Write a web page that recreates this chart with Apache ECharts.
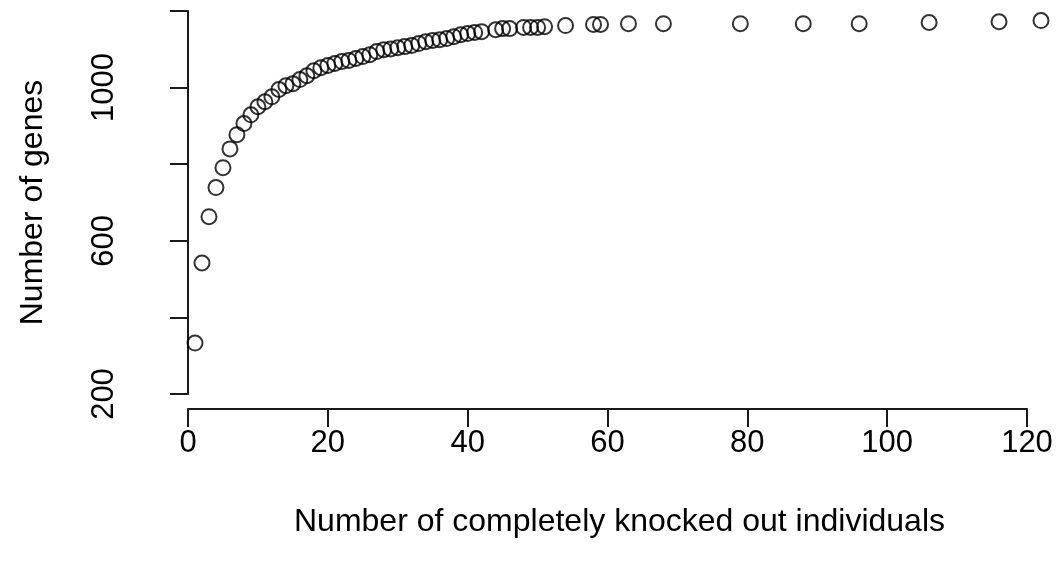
<!DOCTYPE html>
<html>
<head>
<meta charset="utf-8">
<script src="https://cdn.jsdelivr.net/npm/echarts@6/dist/echarts.min.js"></script>
<style>
  html, body { margin: 0; padding: 0; background: #fff; }
  #chart { width: 1060px; height: 569px; }
</style>
</head>
<body>
<div id="chart"></div>
<script>
// valores
const individuos = [
  1, 2, 3, 4, 5, 6, 7, 8, 9, 10,
  11, 12, 13, 14, 15, 16, 17, 18, 19, 20,
  21, 22, 23, 24, 25, 26, 27, 28, 29, 30,
  31, 32, 33, 34, 35, 36, 37, 38, 39, 40,
  41, 42, 44, 45, 46, 48, 49, 50, 51, 54,
  58, 59, 63, 68, 79, 88, 96, 106, 116, 122
];
const genes = [
  333, 542, 663, 739, 791, 840, 877, 906, 929, 950,
  963, 976, 995, 1005, 1010, 1021, 1031, 1044, 1052, 1058,
  1063, 1068, 1071, 1076, 1081, 1086, 1094, 1099, 1101, 1104,
  1107, 1110, 1115, 1120, 1123, 1125, 1128, 1133, 1138, 1141,
  1144, 1146, 1151, 1154, 1154, 1157, 1157, 1157, 1159, 1162,
  1165, 1165, 1167, 1167, 1167, 1167, 1167, 1170, 1172, 1175
];
const xTicks = [0, 20, 40, 60, 80, 100, 120];
const yTicks = [200, 400, 600, 800, 1000, 1200];
const yLabelsVisibles = [200, 600, 1000]; // R oculta las que se solapan

const fuente = 'Liberation Sans, Arial, sans-serif';
const colorEje = '#1a1a1a';

const puntos = individuos.map((x, i) => [x, genes[i]]);

const myChart = echarts.init(document.getElementById('chart'), null, { renderer: 'canvas' });

myChart.setOption({
  animation: false,
  backgroundColor: '#fff',
  grid: { left: 188, right: 33, top: 11, bottom: 175, containLabel: false },
  xAxis: {
    type: 'value',
    min: xTicks[0],
    max: xTicks[xTicks.length - 1],
    interval: 20,
    offset: 15,
    name: 'Number of completely knocked out individuals',
    nameLocation: 'middle',
    nameGap: 97,
    // el titulo de R se centra en toda la region del grafico, algo mas a la derecha
    nameTextStyle: { fontFamily: fuente, fontSize: 32, color: '#000', padding: [0, 0, 0, 24] },
    axisLine: { show: true, onZero: false, lineStyle: { color: colorEje, width: 2 } },
    axisTick: { show: true, length: 18, lineStyle: { color: colorEje, width: 2 } },
    axisLabel: { margin: 19, fontFamily: fuente, fontSize: 31, color: '#000', showMinLabel: true, showMaxLabel: true },
    splitLine: { show: false }
  },
  yAxis: {
    type: 'value',
    min: yTicks[0],
    max: yTicks[yTicks.length - 1],
    interval: 200,
    offset: 27,
    name: 'Number of genes',
    nameLocation: 'middle',
    nameRotate: 90,
    nameGap: 112,
    nameTextStyle: { fontFamily: fuente, fontSize: 32, color: '#000' },
    axisLine: { show: true, lineStyle: { color: colorEje, width: 2 } },
    axisTick: { show: true, length: 18, lineStyle: { color: colorEje, width: 2 } },
    axisLabel: {
      rotate: 90,
      margin: 41,
      fontFamily: fuente,
      fontSize: 31,
      color: '#000',
      showMinLabel: true,
      showMaxLabel: true,
      formatter: v => yLabelsVisibles.includes(v) ? String(v) : ''
    },
    splitLine: { show: false }
  },
  series: [{
    type: 'scatter',
    clip: false,
    symbol: 'circle',
    symbolSize: 15,
    itemStyle: { color: 'rgba(0,0,0,0)', borderColor: '#000', borderWidth: 2 },
    data: puntos
  }]
});
</script>
</body>
</html>
